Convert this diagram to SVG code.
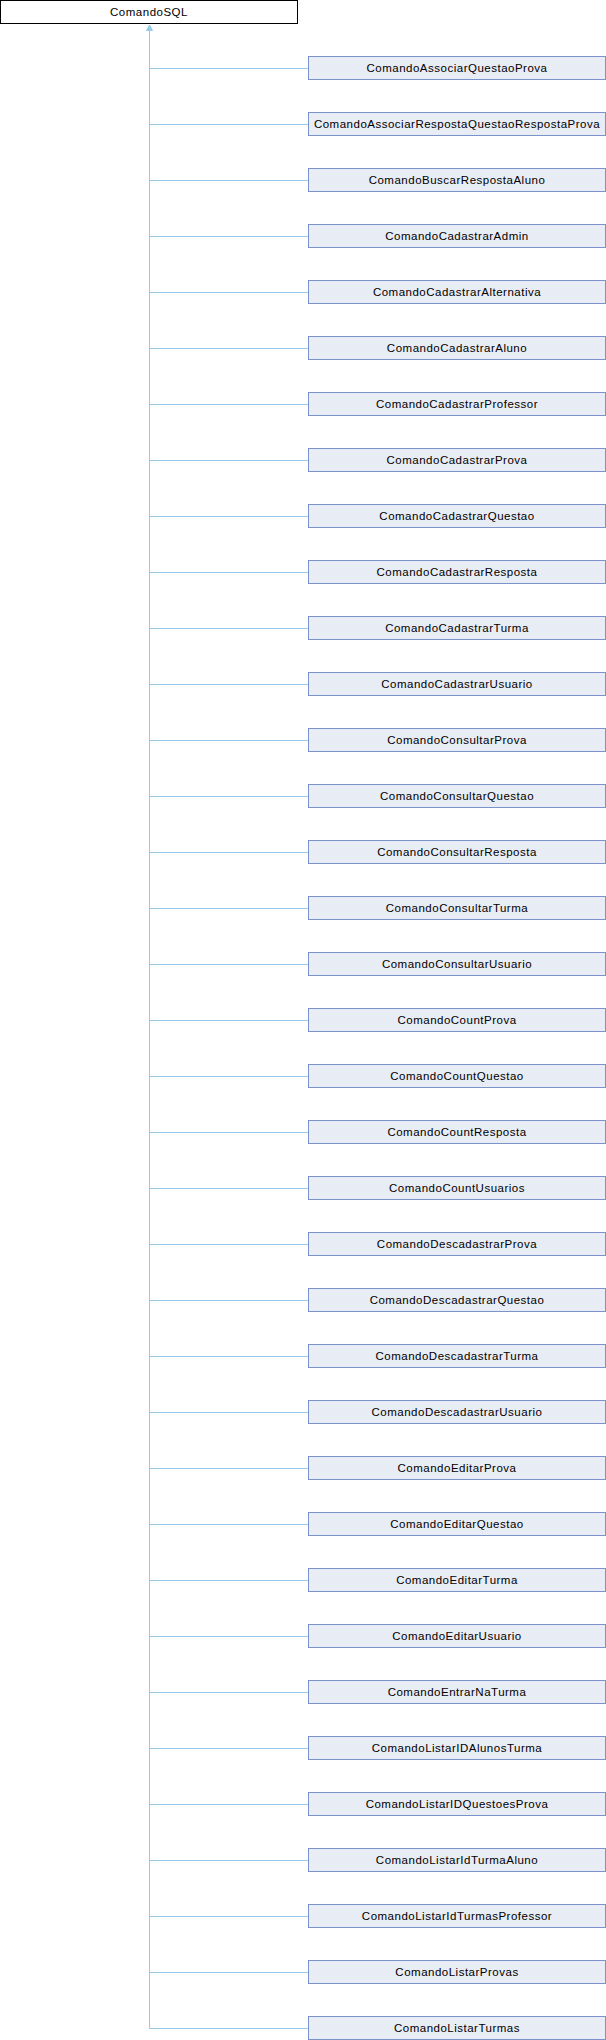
<svg xmlns="http://www.w3.org/2000/svg" width="606" height="2040" viewBox="0 0 606 2040">
<style>
rect.node{fill:#E8ECF5;stroke:#7B93CB;stroke-width:1}
rect.root{fill:#FFFFFF;stroke:#000000;stroke-width:1}
text{font-family:"Liberation Sans",Arial,sans-serif;font-size:11.5px;letter-spacing:0.5px;text-anchor:middle;fill:#000000}
.edge{stroke:#95CBE9;stroke-width:1;fill:none}
.arrow{fill:#95CBE9;stroke:#95CBE9;stroke-width:1}
</style>
<rect x="0" y="0" width="606" height="2040" fill="#FFFFFF"/>
<g id="connectors">
<path class="edge" d="M149.5,30 V2028.5"/>
<polygon class="arrow" points="149.5,25 146.5,30.5 152.5,30.5"/>
<path class="edge" d="M149.5,68.5 H308.5 M149.5,124.5 H308.5 M149.5,180.5 H308.5 M149.5,236.5 H308.5 M149.5,292.5 H308.5 M149.5,348.5 H308.5 M149.5,404.5 H308.5 M149.5,460.5 H308.5 M149.5,516.5 H308.5 M149.5,572.5 H308.5 M149.5,628.5 H308.5 M149.5,684.5 H308.5 M149.5,740.5 H308.5 M149.5,796.5 H308.5 M149.5,852.5 H308.5 M149.5,908.5 H308.5 M149.5,964.5 H308.5 M149.5,1020.5 H308.5 M149.5,1076.5 H308.5 M149.5,1132.5 H308.5 M149.5,1188.5 H308.5 M149.5,1244.5 H308.5 M149.5,1300.5 H308.5 M149.5,1356.5 H308.5 M149.5,1412.5 H308.5 M149.5,1468.5 H308.5 M149.5,1524.5 H308.5 M149.5,1580.5 H308.5 M149.5,1636.5 H308.5 M149.5,1692.5 H308.5 M149.5,1748.5 H308.5 M149.5,1804.5 H308.5 M149.5,1860.5 H308.5 M149.5,1916.5 H308.5 M149.5,1972.5 H308.5 M149.5,2028.5 H308.5"/>
</g>
<g id="ComandoSQL"><rect class="root" x="0.5" y="0.5" width="297" height="23"/><text x="149" y="15.5">ComandoSQL</text></g>
<g id="n1"><rect class="node" x="308.5" y="56.5" width="297" height="23"/><text x="457" y="71.5">ComandoAssociarQuestaoProva</text></g>
<g id="n2"><rect class="node" x="308.5" y="112.5" width="297" height="23"/><text x="457" y="127.5">ComandoAssociarRespostaQuestaoRespostaProva</text></g>
<g id="n3"><rect class="node" x="308.5" y="168.5" width="297" height="23"/><text x="457" y="183.5">ComandoBuscarRespostaAluno</text></g>
<g id="n4"><rect class="node" x="308.5" y="224.5" width="297" height="23"/><text x="457" y="239.5">ComandoCadastrarAdmin</text></g>
<g id="n5"><rect class="node" x="308.5" y="280.5" width="297" height="23"/><text x="457" y="295.5">ComandoCadastrarAlternativa</text></g>
<g id="n6"><rect class="node" x="308.5" y="336.5" width="297" height="23"/><text x="457" y="351.5">ComandoCadastrarAluno</text></g>
<g id="n7"><rect class="node" x="308.5" y="392.5" width="297" height="23"/><text x="457" y="407.5">ComandoCadastrarProfessor</text></g>
<g id="n8"><rect class="node" x="308.5" y="448.5" width="297" height="23"/><text x="457" y="463.5">ComandoCadastrarProva</text></g>
<g id="n9"><rect class="node" x="308.5" y="504.5" width="297" height="23"/><text x="457" y="519.5">ComandoCadastrarQuestao</text></g>
<g id="n10"><rect class="node" x="308.5" y="560.5" width="297" height="23"/><text x="457" y="575.5">ComandoCadastrarResposta</text></g>
<g id="n11"><rect class="node" x="308.5" y="616.5" width="297" height="23"/><text x="457" y="631.5">ComandoCadastrarTurma</text></g>
<g id="n12"><rect class="node" x="308.5" y="672.5" width="297" height="23"/><text x="457" y="687.5">ComandoCadastrarUsuario</text></g>
<g id="n13"><rect class="node" x="308.5" y="728.5" width="297" height="23"/><text x="457" y="743.5">ComandoConsultarProva</text></g>
<g id="n14"><rect class="node" x="308.5" y="784.5" width="297" height="23"/><text x="457" y="799.5">ComandoConsultarQuestao</text></g>
<g id="n15"><rect class="node" x="308.5" y="840.5" width="297" height="23"/><text x="457" y="855.5">ComandoConsultarResposta</text></g>
<g id="n16"><rect class="node" x="308.5" y="896.5" width="297" height="23"/><text x="457" y="911.5">ComandoConsultarTurma</text></g>
<g id="n17"><rect class="node" x="308.5" y="952.5" width="297" height="23"/><text x="457" y="967.5">ComandoConsultarUsuario</text></g>
<g id="n18"><rect class="node" x="308.5" y="1008.5" width="297" height="23"/><text x="457" y="1023.5">ComandoCountProva</text></g>
<g id="n19"><rect class="node" x="308.5" y="1064.5" width="297" height="23"/><text x="457" y="1079.5">ComandoCountQuestao</text></g>
<g id="n20"><rect class="node" x="308.5" y="1120.5" width="297" height="23"/><text x="457" y="1135.5">ComandoCountResposta</text></g>
<g id="n21"><rect class="node" x="308.5" y="1176.5" width="297" height="23"/><text x="457" y="1191.5">ComandoCountUsuarios</text></g>
<g id="n22"><rect class="node" x="308.5" y="1232.5" width="297" height="23"/><text x="457" y="1247.5">ComandoDescadastrarProva</text></g>
<g id="n23"><rect class="node" x="308.5" y="1288.5" width="297" height="23"/><text x="457" y="1303.5">ComandoDescadastrarQuestao</text></g>
<g id="n24"><rect class="node" x="308.5" y="1344.5" width="297" height="23"/><text x="457" y="1359.5">ComandoDescadastrarTurma</text></g>
<g id="n25"><rect class="node" x="308.5" y="1400.5" width="297" height="23"/><text x="457" y="1415.5">ComandoDescadastrarUsuario</text></g>
<g id="n26"><rect class="node" x="308.5" y="1456.5" width="297" height="23"/><text x="457" y="1471.5">ComandoEditarProva</text></g>
<g id="n27"><rect class="node" x="308.5" y="1512.5" width="297" height="23"/><text x="457" y="1527.5">ComandoEditarQuestao</text></g>
<g id="n28"><rect class="node" x="308.5" y="1568.5" width="297" height="23"/><text x="457" y="1583.5">ComandoEditarTurma</text></g>
<g id="n29"><rect class="node" x="308.5" y="1624.5" width="297" height="23"/><text x="457" y="1639.5">ComandoEditarUsuario</text></g>
<g id="n30"><rect class="node" x="308.5" y="1680.5" width="297" height="23"/><text x="457" y="1695.5">ComandoEntrarNaTurma</text></g>
<g id="n31"><rect class="node" x="308.5" y="1736.5" width="297" height="23"/><text x="457" y="1751.5">ComandoListarIDAlunosTurma</text></g>
<g id="n32"><rect class="node" x="308.5" y="1792.5" width="297" height="23"/><text x="457" y="1807.5">ComandoListarIDQuestoesProva</text></g>
<g id="n33"><rect class="node" x="308.5" y="1848.5" width="297" height="23"/><text x="457" y="1863.5">ComandoListarIdTurmaAluno</text></g>
<g id="n34"><rect class="node" x="308.5" y="1904.5" width="297" height="23"/><text x="457" y="1919.5">ComandoListarIdTurmasProfessor</text></g>
<g id="n35"><rect class="node" x="308.5" y="1960.5" width="297" height="23"/><text x="457" y="1975.5">ComandoListarProvas</text></g>
<g id="n36"><rect class="node" x="308.5" y="2016.5" width="297" height="23"/><text x="457" y="2031.5">ComandoListarTurmas</text></g>
</svg>
